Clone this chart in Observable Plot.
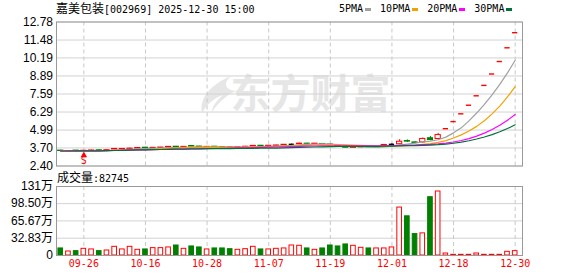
<!DOCTYPE html>
<html><head><meta charset="utf-8">
<script src="https://cdn.jsdelivr.net/npm/d3@7"></script>
<script src="https://cdn.jsdelivr.net/npm/@observablehq/plot@0.6"></script>
<style>
html,body{margin:0;padding:0;background:#fff;}
#wrap{position:relative;width:578px;height:276px;overflow:hidden;}
.ov{position:absolute;white-space:nowrap;z-index:5;color:#000;display:flex;}
.cjk{font-family:"Noto Sans CJK SC",sans-serif;font-size:12px;}
.mono{font-family:"DejaVu Sans Mono",monospace;font-size:10px;}
.sw{display:inline-block;width:6px;height:3px;margin-left:2px;margin-right:9px;}
.pl{position:absolute;left:0;}
</style></head><body>
<div id="wrap"></div>
<script>
// ---- text ----
const stockName = "嘉美包装";
const stockInfo = "[002969] 2025-12-30 15:00";
const volName = "成交量";
const volLastText = ":82745";
const watermarkText = "东方财富";

// ---- daily candles (60 trading days) ----
const opens = [3.51,3.46,3.51,3.48,3.50,3.53,3.51,3.59,3.61,3.63,
  3.66,3.72,3.69,3.70,3.74,3.79,3.76,3.84,3.80,3.76,
  3.79,3.77,3.76,3.74,3.76,3.80,3.86,3.83,3.85,3.89,
  3.96,3.97,4.01,3.98,3.99,3.95,3.88,3.78,3.71,3.74,
  3.78,3.72,3.86,3.96,3.97,4.20,4.10,4.10,4.40,4.35,
  5.09,5.60,6.16,6.78,7.46,8.21,9.03,9.93,10.92,12.01];
const highs = [3.53,3.50,3.52,3.52,3.54,3.55,3.56,3.66,3.65,3.69,
  3.72,3.74,3.73,3.75,3.80,3.81,3.80,3.88,3.82,3.80,
  3.81,3.79,3.78,3.79,3.81,3.87,3.88,3.88,3.90,3.95,
  3.99,4.04,4.05,4.03,4.02,3.97,3.90,3.80,3.76,3.79,
  3.80,3.80,3.95,4.01,4.30,4.28,4.15,4.42,4.52,4.75,
  5.09,5.60,6.16,6.78,7.46,8.21,9.03,9.93,10.92,12.01];
const lows = [3.44,3.45,3.47,3.46,3.49,3.50,3.50,3.57,3.59,3.61,
  3.65,3.68,3.67,3.69,3.73,3.74,3.75,3.79,3.74,3.75,
  3.74,3.74,3.72,3.73,3.75,3.79,3.81,3.82,3.84,3.88,
  3.92,3.95,3.97,3.96,3.94,3.88,3.80,3.70,3.70,3.73,
  3.73,3.71,3.84,3.91,3.94,4.10,4.00,4.05,4.22,4.30,
  5.09,5.60,6.16,6.78,7.46,8.21,9.03,9.93,10.92,12.01];
const closes = [3.48,3.48,3.49,3.50,3.52,3.51,3.54,3.63,3.63,3.65,
  3.70,3.69,3.71,3.73,3.78,3.76,3.78,3.80,3.76,3.78,
  3.76,3.75,3.74,3.77,3.79,3.85,3.83,3.86,3.88,3.93,
  3.96,4.01,4.00,4.01,3.96,3.90,3.82,3.72,3.74,3.77,
  3.75,3.74,3.92,3.96,4.15,4.16,4.06,4.35,4.27,4.63,
  5.09,5.60,6.16,6.78,7.46,8.21,9.03,9.93,10.92,12.01];
// volume in 万
const volumes = [13.4,7.6,8.3,12.7,11.5,8.3,9.5,16.5,11.5,16.5,
  10.8,11.5,14.0,14.0,15.3,19.0,12.7,17.2,15.3,11.5,
  13.4,13.4,12.0,10.8,12.0,16.5,11.5,11.5,12.7,13.4,
  19.0,18.4,13.4,10.8,13.4,19.0,17.2,21.0,18.4,14.6,
  13.4,13.4,13.4,15.3,91.0,74.4,40.7,42.0,110.7,121.5,
  3.8,1.3,1.3,1.3,3.8,1.3,1.3,1.3,7.0,8.27];

// ---- moving averages ----
const maPeriods = [5, 10, 20, 30];
const maNames = ["5PMA", "10PMA", "20PMA", "30PMA"];
const maColors = ["#a0a0a0", "#f2a200", "#ff00ff", "#00703c"];

// ---- signals ----
const signalIdx = [3];
const signalLabels = ["S"];

// ---- axes ----
const xTickIdx = [3, 11, 19, 27, 35, 43, 51, 59];
const xTickLabels = ["09-26","10-16","10-28","11-07","11-19","12-01","12-18","12-30"];
const yTicks = [2.40, 3.70, 4.99, 6.29, 7.59, 8.89, 10.19, 11.48, 12.78];
const yTickLabels = ["2.40","3.70","4.99","6.29","7.59","8.89","10.19","11.48","12.78"];
const volTicks = [0, 32.83, 65.67, 98.50, 131];
const volTickLabels = ["0","32.83万","65.67万","98.50万","131万"];

const RED = "#ff0000", GREEN = "#008000";
const bars = d3.range(closes.length).map(i => ({i, o: opens[i], h: highs[i], l: lows[i], c: closes[i], v: volumes[i]}));
const half = 0.34;
const xDomain = [-0.55, 59.95];
const labelFont = "Liberation Sans, Noto Sans CJK SC, sans-serif";

const wrap = document.getElementById("wrap");

const pricePlot = Plot.plot({
  width: 578, height: 175,
  marginTop: 21.5, marginBottom: 9.5, marginLeft: 56, marginRight: 56,
  x: {type: "linear", domain: xDomain, axis: null},
  y: {domain: [yTicks[0], yTicks[yTicks.length - 1]], axis: null},
  style: {background: "transparent", overflow: "visible"},
  marks: [
    Plot.text([watermarkText], {frameAnchor: "middle", dx: 21, dy: 1, text: d => d, fontSize: 40, fontWeight: "bold", fill: "#e6e6e6", fontFamily: "Noto Sans CJK SC"}),
    Plot.ruleY(yTicks, {y: d => d, stroke: "#d2d2d2"}),
    Plot.ruleX(xTickIdx, {x: d => d, stroke: "#c8c8c8", strokeDasharray: "4,3"}),
    Plot.ruleX(bars.filter(d => d.h > d.l), {x: "i", y1: "l", y2: "h", stroke: d => d.c > d.o ? RED : d.c < d.o ? GREEN : "#000"}),
    Plot.rect(bars.filter(d => d.c > d.o), {x1: d => d.i - half, x2: d => d.i + half, y1: "o", y2: "c", fill: "#fff", stroke: RED}),
    Plot.rect(bars.filter(d => d.c < d.o), {x1: d => d.i - half, x2: d => d.i + half, y1: "o", y2: "c", fill: GREEN, stroke: GREEN}),
    Plot.ruleY(bars.filter(d => d.c === d.o), {y: "c", x1: d => d.i - half, x2: d => d.i + half, stroke: d => d.h === d.l ? RED : "#000", strokeWidth: 1.4}),
    ...maPeriods.map((k, j) => Plot.lineY(bars, Plot.windowY({k, anchor: "end"}, {x: "i", y: "c", stroke: maColors[j], strokeWidth: 1.2}))),
    Plot.dot(signalIdx, {x: d => d, y: d => lows[d], symbol: "triangle", r: 2.4, fill: RED, stroke: null, dy: 4}),
    Plot.text(signalIdx, {x: d => d, y: d => lows[d], text: (d, i) => signalLabels[i], dy: 9.5, fill: RED, fontSize: 10, fontFamily: "DejaVu Sans Mono"}),
    Plot.frame({stroke: "#999"}),
    Plot.text(yTicks, {y: d => d, text: (d, i) => yTickLabels[i], frameAnchor: "left", textAnchor: "end", dx: -3.5, fontSize: 12, fontFamily: labelFont, fill: "#000"})
  ]
});
pricePlot.classList.add("pl");
pricePlot.style.top = "0px";
wrap.appendChild(pricePlot);

// watermark logo (decoration)
const logo = document.createElementNS("http://www.w3.org/2000/svg", "path");
logo.setAttribute("d", "M231 76 C212 84 199 97 202 113 C207 104 214 98 223 95 C216 101 212 107 212 112 C220 100 229 94 236 91 C226 90 222 84 231 76 Z");
logo.setAttribute("fill", "#e6e6e6");
pricePlot.insertBefore(logo, pricePlot.children[1]);

const volPlot = Plot.plot({
  width: 578, height: 101,
  marginTop: 11, marginBottom: 21, marginLeft: 56, marginRight: 56,
  x: {type: "linear", domain: xDomain, axis: null},
  y: {domain: [volTicks[0], volTicks[volTicks.length - 1]], axis: null},
  style: {background: "transparent", overflow: "visible"},
  marks: [
    Plot.ruleY(volTicks, {y: d => d, stroke: "#d2d2d2"}),
    Plot.ruleX(xTickIdx, {x: d => d, stroke: "#c8c8c8", strokeDasharray: "4,3"}),
    Plot.rect(bars, {x1: d => d.i - 0.3, x2: d => d.i + 0.3, y1: 0, y2: "v", fill: d => d.c >= d.o ? "#fff" : GREEN, stroke: d => d.c >= d.o ? RED : GREEN}),
    Plot.frame({stroke: "#999"}),
    Plot.text(volTicks, {y: d => d, text: (d, i) => volTickLabels[i], frameAnchor: "left", textAnchor: "end", dx: -3.5, fontSize: 12, fontFamily: labelFont, fill: "#000"}),
    Plot.text(xTickIdx, {x: d => d, text: (d, i) => xTickLabels[i], frameAnchor: "bottom", dy: 11, fill: RED, fontSize: 10, fontFamily: "DejaVu Sans Mono"})
  ]
});
volPlot.classList.add("pl");
volPlot.style.top = "175px";
wrap.appendChild(volPlot);

// title
const title = document.createElement("div");
title.className = "ov";
title.style.cssText = "left:56px;top:1px;line-height:14px;align-items:baseline;";
title.innerHTML = `<span class="cjk">${stockName}</span><span class="mono">${stockInfo}</span>`;
wrap.appendChild(title);

// legend
const legend = document.createElement("div");
legend.className = "ov";
legend.style.cssText = "left:339px;top:3px;line-height:12px;align-items:center;";
legend.innerHTML = maNames.map((n, j) => `<span class="mono">${n}</span><span class="sw" style="background:${maColors[j]}"></span>`).join("");
wrap.appendChild(legend);

// volume label
const vl = document.createElement("div");
vl.className = "ov";
vl.style.cssText = "left:57px;top:170px;line-height:14px;align-items:baseline;";
vl.innerHTML = `<span class="cjk">${volName}</span><span class="mono">${volLastText}</span>`;
wrap.appendChild(vl);
</script>
</body></html>
